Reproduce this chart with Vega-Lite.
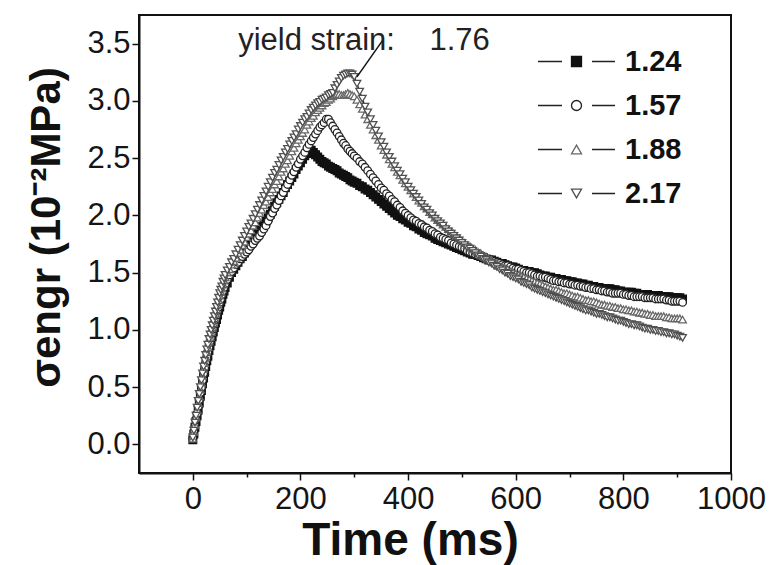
{
  "$schema": "https://vega.github.io/schema/vega-lite/v6.json",
  "width": 592,
  "height": 458,
  "autosize": {"type": "none"},
  "padding": {"left": 139, "top": 15, "right": 39, "bottom": 92},
  "background": "#ffffff",
  "config": {
    "view": {"stroke": "#111111", "strokeWidth": 2},
    "font": "Liberation Sans",
    "axis": {
      "grid": false,
      "domainColor": "#111111",
      "domainWidth": 2,
      "tickColor": "#111111",
      "tickWidth": 1.5,
      "labelFont": "Liberation Sans",
      "labelFontSize": 31,
      "labelColor": "#151515",
      "labelFlush": false,
      "labelOverlap": false,
      "titleFont": "Liberation Sans",
      "titleFontWeight": "bold",
      "titleColor": "#111111"
    }
  },
  "datasets": {
    "curves": [
      {"t":0,"a":0.04,"b":0.05,"c":0.05,"d":0.06},{"t":2,"a":0.09,"b":0.11,"c":0.11,"d":0.12},{"t":4,"a":0.15,"b":0.16,"c":0.17,"d":0.19},{"t":6,"a":0.2,"b":0.22,"c":0.24,"d":0.25},{"t":8,"a":0.25,"b":0.27,"c":0.3,"d":0.32},{"t":10,"a":0.3,"b":0.33,"c":0.36,"d":0.38},{"t":12,"a":0.36,"b":0.39,"c":0.42,"d":0.44},{"t":14,"a":0.42,"b":0.45,"c":0.48,"d":0.5},{"t":16,"a":0.47,"b":0.5,"c":0.54,"d":0.56},{"t":18,"a":0.53,"b":0.56,"c":0.6,"d":0.62},{"t":20,"a":0.58,"b":0.62,"c":0.66,"d":0.68},{"t":22,"a":0.63,"b":0.67,"c":0.71,"d":0.73},{"t":24,"a":0.68,"b":0.72,"c":0.76,"d":0.78},{"t":26,"a":0.73,"b":0.76,"c":0.81,"d":0.83},{"t":28,"a":0.77,"b":0.81,"c":0.85,"d":0.87},{"t":30,"a":0.82,"b":0.85,"c":0.9,"d":0.92},{"t":32,"a":0.86,"b":0.89,"c":0.94,"d":0.96},{"t":34,"a":0.9,"b":0.93,"c":0.98,"d":1.0},{"t":36,"a":0.94,"b":0.97,"c":1.02,"d":1.04},{"t":38,"a":0.98,"b":1.01,"c":1.06,"d":1.08},{"t":40,"a":1.02,"b":1.05,"c":1.1,"d":1.12},{"t":42,"a":1.06,"b":1.09,"c":1.14,"d":1.16},{"t":44,"a":1.09,"b":1.13,"c":1.18,"d":1.2},{"t":46,"a":1.13,"b":1.17,"c":1.22,"d":1.24},{"t":48,"a":1.17,"b":1.2,"c":1.26,"d":1.28},{"t":50,"a":1.2,"b":1.24,"c":1.3,"d":1.32},{"t":52,"a":1.24,"b":1.27,"c":1.33,"d":1.35},{"t":54,"a":1.27,"b":1.31,"c":1.36,"d":1.38},{"t":56,"a":1.31,"b":1.34,"c":1.4,"d":1.42},{"t":58,"a":1.34,"b":1.37,"c":1.43,"d":1.45},{"t":60,"a":1.37,"b":1.4,"c":1.46,"d":1.48},
      {"t":64,"a":1.41,"b":1.44,"c":1.5,"d":1.52},{"t":68,"a":1.46,"b":1.48,"c":1.53,"d":1.55},{"t":72,"a":1.5,"b":1.51,"c":1.57,"d":1.59},{"t":76,"a":1.53,"b":1.54,"c":1.6,"d":1.62},{"t":80,"a":1.56,"b":1.57,"c":1.63,"d":1.66},{"t":84,"a":1.59,"b":1.59,"c":1.67,"d":1.7},{"t":88,"a":1.62,"b":1.62,"c":1.7,"d":1.74},{"t":92,"a":1.64,"b":1.64,"c":1.74,"d":1.78},{"t":96,"a":1.67,"b":1.66,"c":1.77,"d":1.82},{"t":100,"a":1.7,"b":1.68,"c":1.81,"d":1.86},{"t":104,"a":1.73,"b":1.7,"c":1.84,"d":1.9},{"t":108,"a":1.76,"b":1.73,"c":1.87,"d":1.93},{"t":112,"a":1.78,"b":1.75,"c":1.91,"d":1.97},{"t":116,"a":1.81,"b":1.78,"c":1.94,"d":2.01},{"t":120,"a":1.84,"b":1.8,"c":1.98,"d":2.05},{"t":124,"a":1.87,"b":1.82,"c":2.02,"d":2.09},{"t":128,"a":1.9,"b":1.85,"c":2.05,"d":2.13},{"t":132,"a":1.92,"b":1.88,"c":2.09,"d":2.17},{"t":136,"a":1.95,"b":1.91,"c":2.12,"d":2.21},{"t":140,"a":1.98,"b":1.95,"c":2.16,"d":2.25},{"t":144,"a":2.01,"b":1.99,"c":2.2,"d":2.29},{"t":148,"a":2.04,"b":2.02,"c":2.23,"d":2.33},{"t":152,"a":2.08,"b":2.06,"c":2.27,"d":2.37},{"t":156,"a":2.11,"b":2.09,"c":2.3,"d":2.4},{"t":160,"a":2.14,"b":2.13,"c":2.34,"d":2.44},{"t":164,"a":2.17,"b":2.17,"c":2.38,"d":2.48},{"t":168,"a":2.2,"b":2.2,"c":2.41,"d":2.51},{"t":172,"a":2.24,"b":2.24,"c":2.45,"d":2.55},{"t":176,"a":2.27,"b":2.27,"c":2.48,"d":2.58},{"t":180,"a":2.3,"b":2.31,"c":2.52,"d":2.62},{"t":184,"a":2.33,"b":2.35,"c":2.56,"d":2.65},{"t":188,"a":2.36,"b":2.38,"c":2.59,"d":2.68},{"t":192,"a":2.4,"b":2.42,"c":2.63,"d":2.71},{"t":196,"a":2.43,"b":2.45,"c":2.66,"d":2.75},{"t":200,"a":2.46,"b":2.49,"c":2.69,"d":2.78},{"t":204,"a":2.49,"b":2.52,"c":2.72,"d":2.81},{"t":208,"a":2.52,"b":2.55,"c":2.75,"d":2.84},{"t":212,"a":2.54,"b":2.59,"c":2.79,"d":2.86},{"t":216,"a":2.55,"b":2.62,"c":2.82,"d":2.89},{"t":220,"a":2.57,"b":2.65,"c":2.85,"d":2.92},{"t":224,"a":2.55,"b":2.68,"c":2.87,"d":2.94},{"t":228,"a":2.53,"b":2.71,"c":2.9,"d":2.96},{"t":232,"a":2.51,"b":2.74,"c":2.92,"d":2.98},{"t":236,"a":2.49,"b":2.77,"c":2.94,"d":2.99},{"t":240,"a":2.47,"b":2.79,"c":2.96,"d":3.01},{"t":244,"a":2.46,"b":2.81,"c":2.98,"d":3.02},{"t":248,"a":2.45,"b":2.84,"c":2.99,"d":3.03},{"t":252,"a":2.43,"b":2.84,"c":3.01,"d":3.05},{"t":256,"a":2.42,"b":2.81,"c":3.02,"d":3.06},{"t":260,"a":2.41,"b":2.78,"c":3.04,"d":3.07},{"t":264,"a":2.4,"b":2.75,"c":3.05,"d":3.11},{"t":268,"a":2.39,"b":2.72,"c":3.06,"d":3.14},{"t":272,"a":2.37,"b":2.69,"c":3.06,"d":3.17},{"t":276,"a":2.36,"b":2.66,"c":3.05,"d":3.2},{"t":280,"a":2.35,"b":2.63,"c":3.05,"d":3.22},{"t":284,"a":2.34,"b":2.61,"c":3.06,"d":3.23},{"t":288,"a":2.33,"b":2.58,"c":3.07,"d":3.24},{"t":292,"a":2.31,"b":2.56,"c":3.06,"d":3.24},{"t":296,"a":2.3,"b":2.54,"c":3.05,"d":3.23},
      {"t":300,"a":2.29,"b":2.52,"c":3.04,"d":3.21},{"t":305,"a":2.28,"b":2.5,"c":3.01,"d":3.15},{"t":310,"a":2.26,"b":2.47,"c":2.97,"d":3.08},{"t":315,"a":2.25,"b":2.45,"c":2.93,"d":3.02},{"t":320,"a":2.23,"b":2.42,"c":2.88,"d":2.95},{"t":325,"a":2.22,"b":2.39,"c":2.84,"d":2.9},{"t":330,"a":2.2,"b":2.36,"c":2.79,"d":2.84},{"t":335,"a":2.18,"b":2.33,"c":2.75,"d":2.79},{"t":340,"a":2.16,"b":2.3,"c":2.7,"d":2.74},{"t":345,"a":2.14,"b":2.27,"c":2.66,"d":2.69},{"t":350,"a":2.12,"b":2.24,"c":2.61,"d":2.64},{"t":355,"a":2.1,"b":2.22,"c":2.57,"d":2.6},{"t":360,"a":2.08,"b":2.19,"c":2.53,"d":2.55},{"t":365,"a":2.06,"b":2.17,"c":2.49,"d":2.51},{"t":370,"a":2.04,"b":2.14,"c":2.45,"d":2.47},{"t":375,"a":2.02,"b":2.12,"c":2.42,"d":2.43},{"t":380,"a":2.0,"b":2.09,"c":2.38,"d":2.39},{"t":385,"a":1.99,"b":2.07,"c":2.35,"d":2.36},{"t":390,"a":1.97,"b":2.04,"c":2.31,"d":2.32},{"t":395,"a":1.96,"b":2.02,"c":2.28,"d":2.29},{"t":400,"a":1.94,"b":2.0,"c":2.25,"d":2.25},{"t":405,"a":1.93,"b":1.98,"c":2.22,"d":2.22},{"t":410,"a":1.91,"b":1.96,"c":2.19,"d":2.19},{"t":415,"a":1.9,"b":1.95,"c":2.16,"d":2.16},{"t":420,"a":1.88,"b":1.93,"c":2.13,"d":2.13},{"t":425,"a":1.87,"b":1.92,"c":2.11,"d":2.1},{"t":430,"a":1.85,"b":1.9,"c":2.08,"d":2.07},{"t":435,"a":1.84,"b":1.89,"c":2.06,"d":2.05},{"t":440,"a":1.83,"b":1.87,"c":2.03,"d":2.02},{"t":445,"a":1.82,"b":1.86,"c":2.01,"d":2.0},{"t":450,"a":1.8,"b":1.84,"c":1.98,"d":1.97},{"t":455,"a":1.79,"b":1.83,"c":1.96,"d":1.95},{"t":460,"a":1.78,"b":1.81,"c":1.94,"d":1.93},{"t":465,"a":1.77,"b":1.8,"c":1.92,"d":1.91},{"t":470,"a":1.76,"b":1.79,"c":1.9,"d":1.88},{"t":475,"a":1.75,"b":1.78,"c":1.88,"d":1.86},{"t":480,"a":1.74,"b":1.76,"c":1.86,"d":1.84},{"t":485,"a":1.73,"b":1.75,"c":1.84,"d":1.82},{"t":490,"a":1.72,"b":1.74,"c":1.82,"d":1.8},{"t":495,"a":1.71,"b":1.73,"c":1.8,"d":1.78},{"t":500,"a":1.7,"b":1.72,"c":1.78,"d":1.76},{"t":505,"a":1.69,"b":1.71,"c":1.76,"d":1.74},{"t":510,"a":1.68,"b":1.69,"c":1.74,"d":1.72},{"t":515,"a":1.67,"b":1.68,"c":1.73,"d":1.71},{"t":520,"a":1.66,"b":1.67,"c":1.71,"d":1.69},{"t":525,"a":1.66,"b":1.66,"c":1.7,"d":1.67},{"t":530,"a":1.65,"b":1.65,"c":1.68,"d":1.65},{"t":535,"a":1.64,"b":1.64,"c":1.67,"d":1.64},{"t":540,"a":1.63,"b":1.63,"c":1.65,"d":1.62},{"t":545,"a":1.62,"b":1.62,"c":1.64,"d":1.61},{"t":550,"a":1.61,"b":1.61,"c":1.62,"d":1.59},{"t":555,"a":1.61,"b":1.61,"c":1.61,"d":1.58},{"t":560,"a":1.6,"b":1.6,"c":1.59,"d":1.56},{"t":565,"a":1.59,"b":1.59,"c":1.58,"d":1.55},{"t":570,"a":1.58,"b":1.58,"c":1.56,"d":1.53},{"t":575,"a":1.58,"b":1.57,"c":1.55,"d":1.52},{"t":580,"a":1.57,"b":1.56,"c":1.54,"d":1.5},{"t":585,"a":1.56,"b":1.56,"c":1.53,"d":1.49},{"t":590,"a":1.55,"b":1.55,"c":1.51,"d":1.47},{"t":595,"a":1.55,"b":1.54,"c":1.5,"d":1.46},{"t":600,"a":1.54,"b":1.53,"c":1.49,"d":1.45},{"t":605,"a":1.53,"b":1.53,"c":1.48,"d":1.44},{"t":610,"a":1.52,"b":1.52,"c":1.47,"d":1.42},{"t":615,"a":1.52,"b":1.51,"c":1.46,"d":1.41},{"t":620,"a":1.51,"b":1.5,"c":1.45,"d":1.4},{"t":625,"a":1.51,"b":1.5,"c":1.44,"d":1.39},{"t":630,"a":1.5,"b":1.49,"c":1.43,"d":1.37},{"t":635,"a":1.5,"b":1.48,"c":1.42,"d":1.36},{"t":640,"a":1.49,"b":1.47,"c":1.41,"d":1.35},{"t":645,"a":1.48,"b":1.47,"c":1.4,"d":1.34},{"t":650,"a":1.47,"b":1.46,"c":1.39,"d":1.33},{"t":655,"a":1.47,"b":1.46,"c":1.38,"d":1.32},{"t":660,"a":1.46,"b":1.45,"c":1.37,"d":1.31},{"t":665,"a":1.46,"b":1.44,"c":1.36,"d":1.3},{"t":670,"a":1.45,"b":1.43,"c":1.35,"d":1.29},{"t":675,"a":1.45,"b":1.43,"c":1.35,"d":1.28},{"t":680,"a":1.44,"b":1.42,"c":1.34,"d":1.27},{"t":685,"a":1.44,"b":1.42,"c":1.33,"d":1.26},{"t":690,"a":1.43,"b":1.41,"c":1.32,"d":1.25},{"t":695,"a":1.43,"b":1.41,"c":1.32,"d":1.24},{"t":700,"a":1.42,"b":1.4,"c":1.31,"d":1.23},{"t":705,"a":1.42,"b":1.4,"c":1.3,"d":1.22},{"t":710,"a":1.41,"b":1.39,"c":1.29,"d":1.21},{"t":715,"a":1.41,"b":1.39,"c":1.29,"d":1.2},{"t":720,"a":1.4,"b":1.38,"c":1.28,"d":1.19},{"t":725,"a":1.4,"b":1.38,"c":1.27,"d":1.18},{"t":730,"a":1.39,"b":1.37,"c":1.26,"d":1.17},{"t":735,"a":1.39,"b":1.37,"c":1.26,"d":1.17},{"t":740,"a":1.38,"b":1.36,"c":1.25,"d":1.16},{"t":745,"a":1.38,"b":1.36,"c":1.25,"d":1.15},{"t":750,"a":1.37,"b":1.35,"c":1.24,"d":1.14},{"t":755,"a":1.37,"b":1.35,"c":1.23,"d":1.14},{"t":760,"a":1.36,"b":1.34,"c":1.22,"d":1.13},{"t":765,"a":1.36,"b":1.34,"c":1.22,"d":1.12},{"t":770,"a":1.36,"b":1.33,"c":1.21,"d":1.11},{"t":775,"a":1.36,"b":1.33,"c":1.21,"d":1.11},{"t":780,"a":1.35,"b":1.32,"c":1.2,"d":1.1},{"t":785,"a":1.35,"b":1.32,"c":1.2,"d":1.09},{"t":790,"a":1.34,"b":1.32,"c":1.19,"d":1.08},{"t":795,"a":1.34,"b":1.32,"c":1.19,"d":1.08},{"t":800,"a":1.33,"b":1.31,"c":1.18,"d":1.07},{"t":805,"a":1.33,"b":1.31,"c":1.18,"d":1.06},{"t":810,"a":1.33,"b":1.3,"c":1.17,"d":1.05},{"t":815,"a":1.33,"b":1.3,"c":1.17,"d":1.05},{"t":820,"a":1.32,"b":1.29,"c":1.16,"d":1.04},{"t":825,"a":1.32,"b":1.29,"c":1.16,"d":1.04},{"t":830,"a":1.31,"b":1.29,"c":1.15,"d":1.03},{"t":835,"a":1.31,"b":1.29,"c":1.15,"d":1.02},{"t":840,"a":1.31,"b":1.28,"c":1.14,"d":1.01},{"t":845,"a":1.31,"b":1.28,"c":1.14,"d":1.01},{"t":850,"a":1.3,"b":1.28,"c":1.13,"d":1.0},{"t":855,"a":1.3,"b":1.28,"c":1.13,"d":1.0},{"t":860,"a":1.3,"b":1.27,"c":1.12,"d":0.99},{"t":865,"a":1.3,"b":1.27,"c":1.12,"d":0.99},{"t":870,"a":1.29,"b":1.27,"c":1.12,"d":0.98},{"t":875,"a":1.29,"b":1.27,"c":1.12,"d":0.98},{"t":880,"a":1.29,"b":1.26,"c":1.11,"d":0.97},{"t":885,"a":1.29,"b":1.26,"c":1.11,"d":0.97},{"t":890,"a":1.28,"b":1.25,"c":1.1,"d":0.96},{"t":895,"a":1.28,"b":1.25,"c":1.1,"d":0.96},{"t":900,"a":1.28,"b":1.25,"c":1.1,"d":0.95},{"t":905,"a":1.28,"b":1.25,"c":1.1,"d":0.94},{"t":910,"a":1.27,"b":1.24,"c":1.09,"d":0.93}
    ]
  },
  "layer": [
    {
      "data": {"name": "curves"},
      "transform": [{"fold": ["a", "b", "c", "d"], "as": ["k", "w"]}],
      "mark": {"type": "line", "color": "#222222", "opacity": 1},
      "encoding": {
        "x": {"field": "t", "type": "quantitative"},
        "y": {"field": "w", "type": "quantitative"},
        "strokeWidth": {
          "field": "k", "type": "nominal",
          "scale": {"type": "ordinal", "range": [1.4, 1.4, 1.4, 1.4]},
          "legend": {
            "orient": "none", "legendX": 423, "legendY": 32, "title": null, "padding": 0,
            "symbolType": "M-7.7,0H-2.9M3.1,0H7.7", "symbolSize": 100, "symbolStrokeColor": "#222222",
            "labelOffset": 34, "labelFontSize": 29, "labelFont": "Liberation Sans",
            "labelFontWeight": "bold", "labelOpacity": 0, "rowPadding": 14,
            "labelExpr": "datum.label==='a'?'1.24':datum.label==='b'?'1.57':datum.label==='c'?'1.88':'2.17'"
          }
        }
      }
    },
    {
      "data": {"name": "curves"},
      "transform": [{"fold": ["a", "b", "c", "d"], "as": ["s", "v"]}],
      "mark": {"type": "point", "size": 58, "strokeWidth": 1.3, "opacity": 1},
      "encoding": {
        "x": {
          "field": "t", "type": "quantitative",
          "scale": {"domain": [-100, 1000], "nice": false, "zero": false},
          "axis": {
            "values": [0, 100, 200, 300, 400, 500, 600, 700, 800, 900, 1000],
            "format": "d",
            "labelExpr": "datum.value % 200 === 0 ? datum.label : ''",
            "tickSize": {"condition": {"test": "datum.value % 200 === 0", "value": 7}, "value": 4},
            "labelPadding": 4,
            "title": "Time (ms)", "titleFontSize": 46, "titleX": 271, "titleY": 81,
            "titleAlign": "center", "titleBaseline": "alphabetic"
          }
        },
        "y": {
          "field": "v", "type": "quantitative",
          "scale": {"domain": [-0.25, 3.75], "nice": false, "zero": false},
          "axis": {
            "values": [0, 0.25, 0.5, 0.75, 1, 1.25, 1.5, 1.75, 2, 2.25, 2.5, 2.75, 3, 3.25, 3.5],
            "format": ".1f",
            "labelExpr": "abs(datum.value*2 - round(datum.value*2)) < 0.001 ? datum.label : ''",
            "tickSize": {"condition": {"test": "abs(datum.value*2 - round(datum.value*2)) < 0.001", "value": 7}, "value": 4},
            "labelPadding": 2,
            "title": "σengr (10⁻²MPa)", "titleFontSize": 42, "titleX": -93, "titleY": 212,
            "titleAngle": -90, "titleAlign": "center", "titleBaseline": "middle"
          }
        },
        "order": {"field": "s", "type": "nominal"},
        "shape": {
          "field": "s", "type": "nominal",
          "scale": {"domain": ["a", "b", "c", "d"], "range": ["square", "circle", "triangle-up", "triangle-down"]},
          "legend": {
            "orient": "none", "legendX": 423, "legendY": 32, "title": null, "padding": 0,
            "symbolSize": 100, "labelOffset": 34, "labelFontSize": 29, "labelFont": "Liberation Sans",
            "labelFontWeight": "bold", "labelColor": "#111111", "rowPadding": 14, "symbolStrokeWidth": 1.3,
            "symbolOpacity": 1,
            "labelExpr": "datum.label==='a'?'1.24':datum.label==='b'?'1.57':datum.label==='c'?'1.88':'2.17'",
            "encode": {
              "symbols": {
                "fill": {"value": {"expr": "datum.value==='a'?'#111111':'#ffffff'"}},
                "stroke": {"value": {"expr": "datum.value==='c'||datum.value==='d'?'#777777':'#222222'"}},
                "opacity": {"value": 1}
              }
            }
          }
        },
        "fill": {
          "field": "s", "type": "nominal",
          "scale": {"domain": ["a", "b", "c", "d"], "range": ["#111111", "#ffffff", "#ffffff", "#ffffff"]},
          "legend": null
        },
        "stroke": {
          "field": "s", "type": "nominal",
          "scale": {"domain": ["a", "b", "c", "d"], "range": ["#111111", "#222222", "#686868", "#505050"]},
          "legend": null
        }
      }
    },
    {
      "data": {"values": [{"t": 305, "v": 3.21, "t2": 353, "v2": 3.53}]},
      "mark": {"type": "rule", "color": "#111111", "strokeWidth": 1.5},
      "encoding": {
        "x": {"field": "t", "type": "quantitative"},
        "y": {"field": "v", "type": "quantitative"},
        "x2": {"field": "t2"},
        "y2": {"field": "v2"}
      }
    },
    {
      "data": {"values": [{"t": 318, "v": 3.44, "label": "yield strain:\u00a0\u00a0\u00a0\u00a01.76"}]},
      "mark": {"type": "text", "font": "Liberation Sans", "fontSize": 31, "color": "#222222", "align": "center", "baseline": "alphabetic"},
      "encoding": {
        "x": {"field": "t", "type": "quantitative"},
        "y": {"field": "v", "type": "quantitative"},
        "text": {"field": "label"}
      }
    }
  ]
}
